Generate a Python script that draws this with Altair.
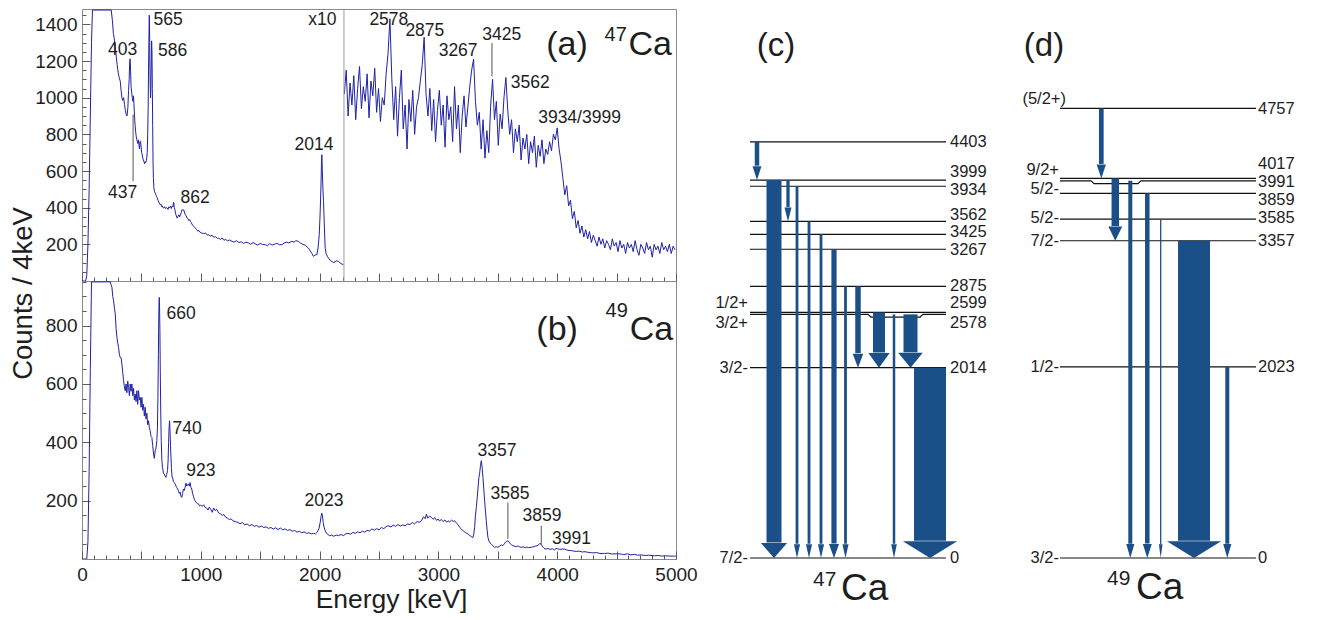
import altair as alt
import pandas as pd

FONT = "Liberation Sans"
SPEC_BLUE = "#1f22a6"
ARROW_BLUE = "#1b4f87"
FRAME = "#8a8a8a"
TICK = "#5a5a5a"
TXT = "#1e1e1e"

# ---------------- (a) 47Ca spectrum, true counts below 2205 keV (E, counts); 1478 = saturated at frame top
a_low = [(0,0),(30,0),(40,30),(50,200),(60,500),(70,900),(80,1300),(88,1478),(246,1478),(256,1420),(264,1350),(270,1330),
(280,1280),(288,1226),(296,1180),(305,1135),(313,1110),(322,1090),(329,1040),(336,999),(343,985),(350,1000),(358,963),(365,930),
(372,908),(379,900),(386,945),(392,1040),(397,1100),(401,1190),(405,1212),(409,1150),(413,1060),(418,1030),(423,1000),(429,980),
(433,1010),(437,970),(442,900),(447,850),(451,817),(456,790),(461,770),(465,763),(470,750),(475,770),(479,745),(484,720),(488,760),
(493,763),(498,730),(502,700),(507,689),(512,670),(516,660),(521,653),(526,640),(530,650),(535,644),(540,655),(545,671),(549,700),
(553,800),(557,950),(560,1150),(563,1300),(566,1450),(568,1430),(571,1200),(574,1080),(577,999),(580,1050),(583,1200),(586,1310),
(589,1250),(592,1050),(595,850),(598,650),(601,560),(605,510),(610,489),(616,480),(622,470),(628,460),(634,452),(640,440),(646,430),
(652,425),(658,416),(664,420),(670,405),(676,410),(682,400),(689,398),(696,405),(703,395),(710,400),(717,398),(724,390),(731,405),
(738,400),(745,407),(752,395),(759,410),(766,405),(770,430),(773,425),(777,400),(782,390),(787,370),(794,355),(801,343),(808,352),
(815,361),(822,350),(829,361),(836,375),(843,390),(850,385),(857,388),(864,370),(871,360),(878,355),(885,343),(892,340),(899,330),
(906,335),(913,325),(920,318),(930,305),(940,298),(955,288),(965,280),(975,272),(985,275),(995,265),(1011,261),(1025,258),(1040,262),
(1055,250),(1067,252),(1080,245),(1095,250),(1110,238),(1125,242),(1140,232),(1151,234),(1165,226),(1180,235),(1195,222),(1210,228),
(1225,218),(1240,224),(1263,216),(1280,212),(1300,220),(1320,210),(1340,214),(1360,205),(1380,212),(1403,207),(1420,200),(1440,210),
(1460,202),(1480,196),(1500,205),(1520,199),(1543,198),(1560,192),(1580,204),(1600,196),(1620,200),(1640,206),(1660,198),(1683,198),
(1700,206),(1720,212),(1740,208),(1767,216),(1785,212),(1800,220),(1823,216),(1840,206),(1860,200),(1880,195),(1907,179),(1920,165),
(1935,150),(1949,134),(1963,143),(1977,143),(1987,180),(1997,252),(2004,360),(2011,507),(2016,650),(2019,689),(2023,600),(2028,500),
(2033,434),(2040,300),(2047,179),(2055,150),(2065,135),(2075,125),(2090,112),(2103,107),(2120,100),(2140,110),(2159,107),(2180,95),
(2200,89)]

# (a) above the x10 mark: displayed (x10) counts, one reading every 16 keV from 2208 keV
a_x10_start = 2208
a_x10_step = 16
a_x10_counts = [1020,1150,900,1080,960,1120,880,1050,1170,940,1060,980,1130,890,1090,1010,1160,920,1050,870,
1000,960,1130,1240,1430,1100,880,1060,790,1000,1150,830,960,720,990,870,1040,800,950,1000,
1090,1180,1330,1020,900,1050,820,990,760,930,1040,850,960,730,1010,880,950,760,1060,830,
960,700,900,1010,840,950,1060,1150,1210,980,850,920,720,880,670,820,700,960,1100,880,
980,740,910,830,1000,1110,930,800,880,700,830,760,850,660,780,720,800,640,760,700,
790,620,740,680,770,640,720,690,760,710,800,770,835,
720,650,560,470,520,410,440,340,380,290,330,260,300,240,280,230,270,210,250,220,
190,240,200,230,180,220,200,170,230,190,210,160,220,180,200,150,210,180,200,160,
220,170,140,200,180,150,210,170,190,130,200,170,190,150,210,170,190,160,200,150,190,170]

# ---------------- (b) 49Ca spectrum (E, counts)
b_points = [(0,0),(40,0),(50,60),(60,300),(70,650),(80,950),(238,950),(245,940),(252,931),(259,900),(266,885),(273,860),(280,840),
(287,790),(294,760),(301,740),(308,725),(315,700),(322,691),(329,690),(336,668),(343,640),(350,611),(357,590),(364,577),(371,600),
(378,570),(385,610),(392,588),(399,560),(406,600),(413,575),(420,600),(427,560),(434,585),(441,545),(448,565),(455,540),(462,577),
(469,530),(476,577),(483,545),(490,554),(497,520),(504,554),(511,510),(518,530),(525,490),(532,520),(539,480),(546,500),(553,460),
(560,474),(567,450),(574,440),(581,420),(588,417),(595,390),(602,360),(609,345),(616,371),(623,380),(630,406),(635,450),(639,554),
(643,700),(647,850),(650,897),(653,860),(656,780),(659,640),(663,500),(667,406),(672,340),(678,314),(685,295),(692,291),(699,285),
(706,280),(713,290),(720,303),(725,340),(729,400),(733,450),(737,474),(741,440),(745,390),(749,349),(753,310),(758,280),(762,280),
(770,265),(777,262),(784,257),(791,250),(798,245),(805,240),(812,234),(819,225),(826,230),(833,215),(840,211),(847,225),(854,240),
(861,235),(868,246),(875,260),(882,250),(889,255),(896,257),(903,250),(910,262),(917,245),(924,240),(931,225),(938,215),(945,205),
(952,200),(960,195),(970,190),(980,189),(990,182),(1000,185),(1012,180),(1024,186),(1036,177),(1048,175),(1060,168),(1072,178),
(1084,170),(1096,160),(1108,175),(1120,166),(1135,170),(1150,158),(1165,155),(1180,150),(1195,152),(1210,143),(1225,140),(1240,135),
(1255,138),(1270,131),(1290,128),(1310,126),(1330,121),(1350,125),(1370,117),(1390,120),(1410,114),(1430,118),(1450,112),(1470,115),
(1490,109),(1510,113),(1530,108),(1550,110),(1570,105),(1590,108),(1610,103),(1630,107),(1650,101),(1670,106),(1690,100),(1710,103),
(1730,98),(1750,101),(1770,95),(1790,98),(1810,92),(1830,95),(1850,90),(1870,93),(1890,88),(1910,90),(1930,86),(1950,88),(1965,86),
(1980,92),(1995,105),(2005,125),(2012,145),(2018,157),(2024,150),(2030,125),(2038,109),(2046,98),(2058,88),(2070,84),(2085,80),
(2100,82),(2120,78),(2140,82),(2160,80),(2180,84),(2200,80),(2220,86),(2240,88),(2260,85),(2280,91),(2300,88),(2320,93),(2340,90),
(2360,95),(2380,92),(2400,98),(2420,96),(2440,103),(2460,99),(2480,104),(2500,100),(2520,108),(2540,104),(2560,111),(2577,114),
(2600,110),(2620,116),(2640,112),(2660,118),(2680,113),(2700,117),(2720,114),(2740,120),(2760,118),(2780,125),(2800,121),(2820,128),
(2840,126),(2857,131),(2875,145),(2890,138),(2899,154),(2910,140),(2925,147),(2941,143),(2955,136),(2970,142),(2985,132),(2997,137),
(3010,130),(3025,136),(3040,128),(3055,134),(3070,126),(3081,131),(3095,127),(3110,133),(3125,129),(3137,131),(3150,124),(3165,118),
(3180,108),(3193,103),(3210,96),(3230,90),(3249,86),(3265,80),(3280,76),(3291,74),(3298,85),(3305,109),(3312,150),(3320,180),
(3327,211),(3335,250),(3341,280),(3347,292),(3354,320),(3361,337),(3368,315),(3375,280),(3382,240),(3389,200),(3396,165),(3403,131),
(3410,100),(3417,74),(3425,62),(3435,55),(3445,51),(3460,45),(3473,40),(3487,42),(3501,40),(3515,44),(3529,48),(3543,46),(3555,52),
(3565,58),(3575,60),(3585,63),(3595,58),(3605,52),(3615,49),(3627,46),(3640,44),(3655,42),(3670,45),(3685,41),(3697,40),(3715,42),
(3730,38),(3745,41),(3760,39),(3781,40),(3800,42),(3815,44),(3828,45),(3840,47),(3852,53),(3862,52),(3872,45),(3885,39),(3897,35),
(3907,34),(3925,36),(3940,33),(3960,35),(3977,31),(3990,36),(4005,35),(4020,33),(4040,34),(4061,34),(4080,31),(4100,29),(4117,29),
(4140,27),(4160,26),(4185,27),(4210,24),(4235,25),(4258,23),(4280,22),(4300,21),(4330,22),(4360,19),(4398,19),(4430,20),(4460,17),
(4500,18),(4538,17),(4560,15),(4590,18),(4620,14),(4650,16),(4678,13),(4710,14),(4740,12),(4770,13),(4818,11),(4850,12),(4880,10),
(4910,11),(4950,10),(4986,10),(5000,10)]

# ---------------- spectrum annotations (text, energy, counts)
a_lab_text = ["403", "565", "586", "437", "862", "2014", "x10", "2578", "2875", "3267", "3425", "3562", "3934/3999"]
a_lab_E = [342, 724, 762, 342, 953, 1953, 2023, 2583, 2886, 3166, 3533, 3773, 4188]
a_lab_C = [1262, 1426, 1257, 480, 453, 744, 1426, 1426, 1362, 1253, 1344, 1080, 889]
a_lead_E = [430, 3451]
a_lead_top = [908, 1298]
a_lead_bot = [544, 1117]
a_x10_mark = 2205

b_lab_text = ["660", "740", "923", "2023", "3357", "3585", "3859", "3991"]
b_lab_E = [834, 885, 1000, 2037, 3493, 3603, 3872, 4121]
b_lab_C = [841, 447, 303, 200, 371, 224, 148, 69]
b_lead_E = [3585, 3866]
b_lead_top = [194, 114]
b_lead_bot = [69, 51]

# panel tags: pieces (text, anchor energy, baseline counts, size kind, align)
a_tag = [("(a)", 4258, 1235, "big", "right"), ("47", 4586, 1311, "sup", "right"), ("Ca", 4600, 1235, "big", "left")]
b_tag = [("(b)", 4174, 751, "big", "right"), ("49", 4594, 828, "sup", "right"), ("Ca", 4610, 751, "big", "left")]

# ---------------- (c) 47Ca level scheme
c_levels = [4403, 3999, 3934, 3562, 3425, 3267, 2875, 2599, 2578, 2014, 0]
c_level_text_at = [4403, 4082, 3897, 3627, 3446, 3263, 2882, 2700, 2490, 2011, 0]
c_spins = ["1/2+", "3/2+", "3/2-", "7/2-"]
c_spin_at = [2700, 2490, 2014, 0]
c_from = [4403, 3999, 3999, 3934, 3562, 3425, 3267, 2875, 2875, 2599, 2578, 2578, 2014]
c_to = [3999, 0, 3562, 0, 0, 0, 0, 0, 2014, 2014, 0, 2014, 0]
c_width = [4.5, 15, 3.3, 2.8, 2.8, 2.8, 5.2, 2.8, 5.5, 12, 2.5, 14, 32]
c_slot = [59, 76, 90, 99, 111, 123, 136, 147.5, 160, 181, 196, 212.5, 232]
c_iso = [("47", 115, -296, "sup"), ("Ca", 143, -444, "big")]

# ---------------- (d) 49Ca level scheme
d_levels = [4757, 4017, 3991, 3859, 3585, 3357, 2023, 0]
d_level_text_at = [4751, 4172, 3982, 3788, 3598, 3354, 2021, 0]
d_spins = ["(5/2+)", "9/2+", "5/2-", "5/2-", "7/2-", "1/2-", "3/2-"]
d_spin_at = [4857, 4102, 3910, 3601, 3354, 2021, 0]
d_from = [4757, 4017, 3991, 3859, 3585, 3357, 2023]
d_to = [4017, 3357, 0, 0, 0, 0, 0]
d_width = [4.7, 7.5, 4, 4.5, 1.3, 32, 4]
d_slot = [103.3, 117.3, 132.3, 149.3, 162.7, 196, 229.3]
d_iso = [("49", 109, -289, "sup"), ("Ca", 138, -434, "big")]

# ================= layout constants
E_MAX = 5000
SPEC_W = 594
A_H, B_H = 272, 278
A_YMAX, B_YMAX = 272 / 0.18333, 278 / 0.2917
PX_PER_KEV = 0.0945
LV_H = 549
LV_TOP = LV_H / PX_PER_KEV
C_LEFT = 0   # left end of panel (c) x domain, in panel px units
LV_FS = 16.5

X_MAJOR = list(range(0, E_MAX + 1, 500))
X_MINOR = [v for v in range(0, E_MAX + 1, 100) if v % 500]
TAG_SIZE = {"big": 34, "sup": 20}


def spec_panel(line_df, ymax, height, y_major, y_minor, lab_df, lead_df, tag, bottom, extra=None):
    xsc = alt.Scale(domain=[0, E_MAX], nice=False, zero=False)
    ysc = alt.Scale(domain=[0, ymax], nice=False, zero=False)
    xkw = dict(orient="bottom", values=X_MAJOR, tickSize=8, offset=-8, domain=False, grid=False,
               tickColor=TICK, tickWidth=1)
    if bottom:
        xkw.update(labels=True, format="d", labelExpr="datum.value % 1000 == 0 ? datum.label : ''",
                   labelFlush=False, labelFontSize=19, labelPadding=6, labelColor=TXT, labelFont=FONT,
                   title="Energy [keV]", titleFontSize=26.5, titleFont=FONT, titleFontWeight="normal",
                   titleColor=TXT, titleX=309, titleY=56, titleBaseline="alphabetic", titleAlign="center")
    else:
        xkw.update(labels=False, title=None)
    ykw = dict(orient="left", values=y_major, tickSize=8, offset=-8, domain=False, grid=False,
               tickColor=TICK, tickWidth=1, labelFontSize=19, labelPadding=5, labelColor=TXT,
               labelFont=FONT, format="d")
    if bottom:
        ykw.update(title="Counts / 4keV", titleFontSize=27.5, titleFont=FONT, titleFontWeight="normal",
                   titleColor=TXT, titleX=-59, titleY=12, titleAngle=270, titleBaseline="alphabetic",
                   titleAlign="center")
    else:
        ykw.update(title=None)
    xminor = alt.Axis(orient="bottom", values=X_MINOR, tickSize=4, offset=-4, domain=False, grid=False,
                      labels=False, title=None, tickColor=TICK, tickWidth=1)
    yminor = alt.Axis(orient="left", values=y_minor, tickSize=4, offset=-4, domain=False, grid=False,
                      labels=False, title=None, tickColor=TICK, tickWidth=1)

    line = alt.Chart(line_df).mark_line(color=SPEC_BLUE, strokeWidth=1, clip=True).encode(
        x=alt.X("E:Q", scale=xsc, axis=alt.Axis(**xkw)),
        y=alt.Y("C:Q", scale=ysc, axis=alt.Axis(**ykw)),
        detail="seg:N")
    minor = alt.Chart(line_df).mark_line(opacity=0).encode(
        x=alt.X("E:Q", scale=xsc, axis=xminor),
        y=alt.Y("C:Q", scale=ysc, axis=yminor))
    leads = alt.Chart(lead_df).mark_rule(color="#555555", strokeWidth=1).encode(
        x=alt.X("E:Q", scale=xsc, axis=None),
        y=alt.Y("top:Q", scale=ysc, axis=None), y2="bot:Q")
    labs = alt.Chart(lab_df).mark_text(font=FONT, fontSize=17.5, color=TXT, baseline="middle").encode(
        x=alt.X("E:Q", scale=xsc, axis=None),
        y=alt.Y("C:Q", scale=ysc, axis=None), text="t:N")
    layers = [line, minor, leads, labs]
    for t, e, c, kind, al in tag:
        layers.append(alt.Chart(pd.DataFrame({"E": [e], "C": [c], "t": [t]})).mark_text(
            font=FONT, fontSize=TAG_SIZE[kind], color=TXT, align=al, baseline="alphabetic").encode(
            x=alt.X("E:Q", scale=xsc, axis=None),
            y=alt.Y("C:Q", scale=ysc, axis=None), text="t:N"))
    if extra is not None:
        layers.append(extra(xsc))
    return alt.layer(*layers).resolve_axis(x="independent", y="independent").properties(
        width=SPEC_W, height=height, view=alt.ViewBackground(stroke=FRAME, strokeWidth=1))


# ---- build spectrum tables
a_rows = [{"E": e, "C": c, "seg": 0} for e, c in a_low]
a_rows += [{"E": a_x10_start + a_x10_step * i, "C": c, "seg": 1} for i, c in enumerate(a_x10_counts)]
a_df = pd.DataFrame(a_rows)
b_df = pd.DataFrame([{"E": e, "C": c, "seg": 0} for e, c in b_points])

a_lab = pd.DataFrame({"t": a_lab_text, "E": a_lab_E, "C": a_lab_C})
b_lab = pd.DataFrame({"t": b_lab_text, "E": b_lab_E, "C": b_lab_C})
a_lead = pd.DataFrame({"E": a_lead_E, "top": a_lead_top, "bot": a_lead_bot})
b_lead = pd.DataFrame({"E": b_lead_E, "top": b_lead_top, "bot": b_lead_bot})


def x10_rule(xsc):
    return alt.Chart(pd.DataFrame({"E": [a_x10_mark]})).mark_rule(color="#9a9a9a", strokeWidth=1).encode(
        x=alt.X("E:Q", scale=xsc, axis=None))


panel_a = spec_panel(a_df, A_YMAX, A_H, list(range(200, 1401, 200)),
                     [v for v in range(50, 1451, 50) if v % 200], a_lab, a_lead, a_tag, False, extra=x10_rule)
panel_b = spec_panel(b_df, B_YMAX, B_H, list(range(200, 801, 200)),
                     [v for v in range(50, 951, 50) if v % 200], b_lab, b_lead, b_tag, True)

spectra = alt.vconcat(panel_a, panel_b, spacing=0, bounds="flush")


def level_panel(xdom, width, levels, text_at, line_x, dips, spins, spin_at, spin_x,
                a_from, a_to, a_w, a_x, tag, tag_x, iso, lab_x):
    xsc = alt.Scale(domain=xdom, nice=False, zero=False)
    ysc = alt.Scale(domain=[0, LV_TOP], nice=False, zero=False)
    X = lambda f: alt.X(f, scale=xsc, axis=None)
    Y = lambda f: alt.Y(f, scale=ysc, axis=None)

    rows = []
    for k, e in enumerate(levels):
        if e in dips:
            xa, xb, ed = dips[e]
            pts = [(line_x[0], e), (xa - 3, e), (xa, ed), (xb, ed), (xb + 3, e), (line_x[1], e)]
        else:
            pts = [(line_x[0], e), (line_x[1], e)]
        for o, (x, y) in enumerate(pts):
            rows.append({"lvl": k, "o": o, "x": x, "y": y})
    lines = alt.Chart(pd.DataFrame(rows)).mark_line(color="#111111", strokeWidth=1.2).encode(
        x=X("x:Q"), y=Y("y:Q"), detail="lvl:N", order="o:Q")

    shafts, heads = [], []
    for i, (f, t, w, x) in enumerate(zip(a_from, a_to, a_w, a_x)):
        hw = 1.65 * w + 1.5
        hl = (13.5 + 0.1 * w) / PX_PER_KEV
        base = t + hl
        shafts.append({"x": x, "y": f, "y2": base + 5, "w": w})
        heads += [{"id": i, "x": x - hw / 2, "y": base, "y2": base},
                  {"id": i, "x": x, "y": base, "y2": t},
                  {"id": i, "x": x + hw / 2, "y": base, "y2": base}]
    shaft_m = alt.Chart(pd.DataFrame(shafts)).mark_rule(color=ARROW_BLUE).encode(
        x=X("x:Q"), y=Y("y:Q"), y2="y2:Q", size=alt.Size("w:Q", scale=None, legend=None))
    head_m = alt.Chart(pd.DataFrame(heads)).mark_area(color=ARROW_BLUE, opacity=1).encode(
        x=X("x:Q"), y=Y("y:Q"), y2="y2:Q", detail="id:N")

    etext = alt.Chart(pd.DataFrame({"t": [str(v) for v in levels], "y": text_at, "x": [lab_x] * len(levels)})
                      ).mark_text(font=FONT, fontSize=LV_FS, color=TXT, align="left", baseline="middle").encode(
        x=X("x:Q"), y=Y("y:Q"), text="t:N")
    stext = alt.Chart(pd.DataFrame({"t": spins, "y": spin_at, "x": spin_x})
                      ).mark_text(font=FONT, fontSize=LV_FS, color=TXT, align="right", baseline="middle").encode(
        x=X("x:Q"), y=Y("y:Q"), text="t:N")
    tagm = alt.Chart(pd.DataFrame({"t": [tag], "x": [tag_x], "y": [5418]})
                     ).mark_text(font=FONT, fontSize=33, color=TXT, baseline="middle").encode(
        x=X("x:Q"), y=Y("y:Q"), text="t:N")
    layers = [lines, shaft_m, head_m, etext, stext, tagm]
    for t, x, y, kind in iso:
        layers.append(alt.Chart(pd.DataFrame({"t": [t], "x": [x], "y": [y]})).mark_text(
            font=FONT, fontSize=21 if kind == "sup" else 37, color=TXT, align="left",
            baseline="alphabetic").encode(x=X("x:Q"), y=Y("y:Q"), text="t:N"))
    return alt.layer(*layers).properties(width=width, height=LV_H)


panel_c = level_panel([C_LEFT, 300], 300 - C_LEFT, c_levels, c_level_text_at, (52, 248), {2578: (173, 222, 2550)},
                      c_spins, c_spin_at, [50] * len(c_spins),
                      c_from, c_to, c_width, c_slot, "(c)", 78, c_iso, 252)
panel_d = level_panel([0, 300], 300, d_levels, d_level_text_at, (62, 258), {3991: (96, 140, 3961)},
                      d_spins, d_spin_at, [68, 61, 61, 61, 61, 61, 61],
                      d_from, d_to, d_width, d_slot, "(d)", 46, d_iso, 260)

chart = alt.hconcat(spectra, panel_c, panel_d, spacing=0).properties(
    padding={"left": 0, "top": 0, "right": 0, "bottom": 0}
).configure(font=FONT).configure_view(strokeWidth=0)

chart.save("out.html", embed_options={"renderer": "svg", "actions": False})
